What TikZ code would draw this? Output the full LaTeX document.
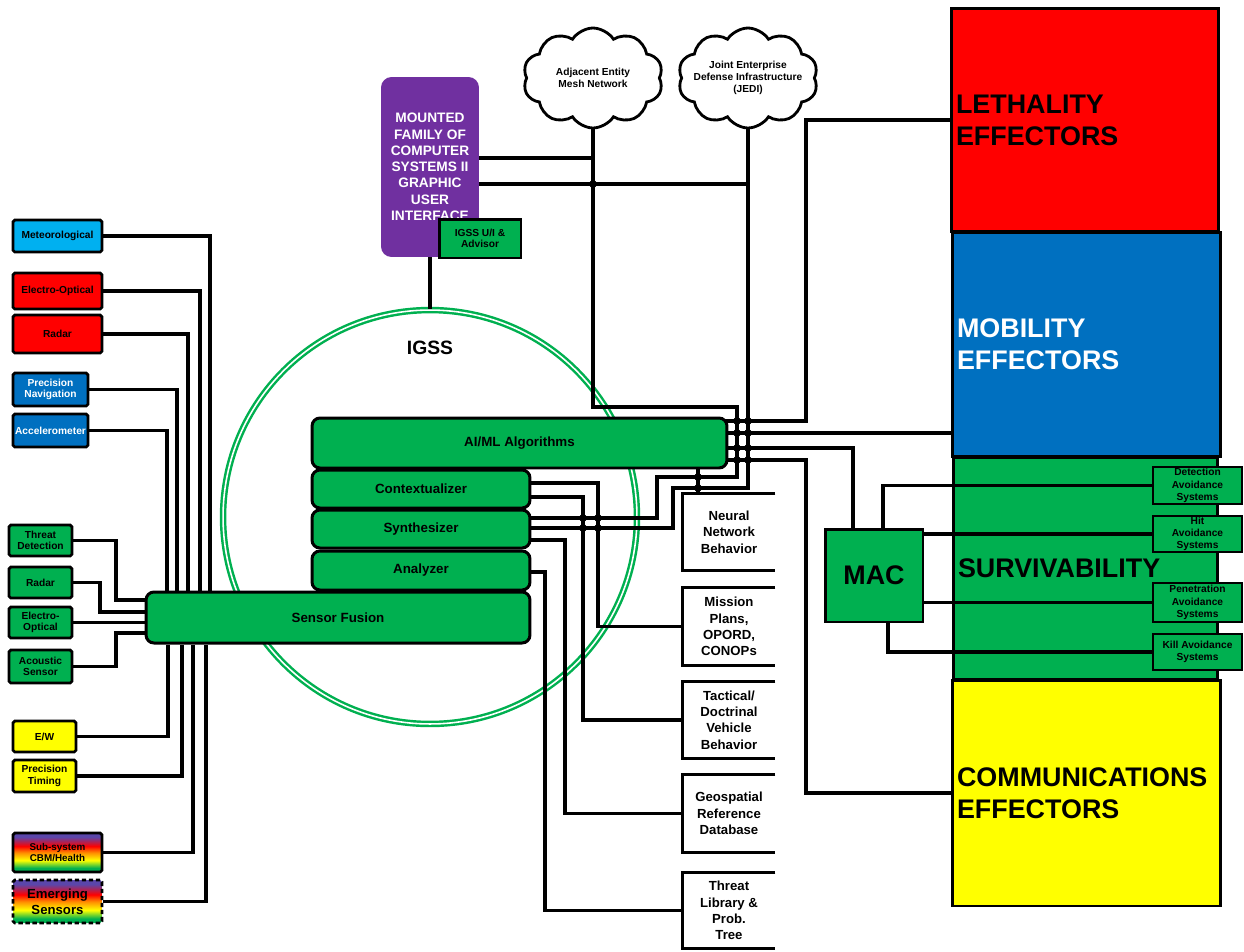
\documentclass[tikz,border=0pt]{standalone}
\usepackage{fontspec}
\setmainfont{Liberation Sans}
\usetikzlibrary{shapes.symbols}
\definecolor{sgreen}{RGB}{0,176,80}
\definecolor{sred}{RGB}{255,0,0}
\definecolor{sblue}{RGB}{0,112,192}
\definecolor{scyan}{RGB}{0,176,240}
\definecolor{syellow}{RGB}{255,255,0}
\definecolor{spurple}{RGB}{112,48,160}
\definecolor{sviolet}{RGB}{90,70,170}
\definecolor{sorange}{RGB}{255,140,0}
\pgfdeclareverticalshading{rainbowbar}{100bp}{color(0bp)=(sgreen); color(30bp)=(sgreen); color(40bp)=(syellow); color(50bp)=(sorange); color(58bp)=(sred); color(70bp)=(sviolet); color(100bp)=(sviolet)}
\pgfdeclarelayer{back}
\pgfdeclarelayer{wires}
\pgfsetlayers{back,wires,main}
\newcommand{\sensorfont}{\fontsize{5.8}{6.6}\selectfont\bfseries}
\newcommand{\stackfont}{\fontsize{7.6}{9}\selectfont\bfseries}
\newcommand{\datafont}{\fontsize{7.5}{9.3}\selectfont\bfseries}
\newcommand{\subsysfont}{\fontsize{5.8}{7}\selectfont\bfseries}
\newcommand{\efffont}{\fontsize{15.3}{18.1}\selectfont\bfseries}
\newcommand{\mfocsfont}{\fontsize{7.8}{9.25}\selectfont\bfseries}
\tikzset{
  wire/.style={line width=2pt},
  sensor/.style={draw,line width=1.6pt,rounded corners=1pt,inner sep=0pt,align=center,font=\sensorfont},
  stackbox/.style={draw,fill=sgreen,line width=1.7pt,rounded corners=4.5pt,inner sep=0pt,font=\stackfont},
  effector/.style={draw,line width=1.7pt,inner xsep=0.1cm,align=left,font=\efffont},
  subsys/.style={draw,fill=sgreen,line width=1.6pt,inner sep=0pt,align=center,font=\subsysfont,minimum width=1.78cm},
  databox/.style={inner sep=0pt,align=center,font=\datafont,minimum width=1.84cm},
  netcloud/.style={cloud,draw,fill=white,line width=1.6pt,cloud puffs=10,cloud puff arc=115,minimum width=2.8cm,minimum height=2cm}
}

\begin{document}
\begin{tikzpicture}[x=0.02cm,y=-0.02cm]
\useasboundingbox (0,0) rectangle (1244,951);

% effector columns and the IGSS ring sit under the wiring
\begin{pgfonlayer}{back}
  \node[effector,fill=sred,minimum width=5.36cm,minimum height=4.48cm,text width=5.16cm] (leth) at (1085,120) {LETHALITY\\EFFECTORS};
  \node[effector,fill=sblue,text=white,minimum width=5.38cm,minimum height=4.5cm,text width=5.18cm] (mob) at (1086.5,344.5) {MOBILITY\\EFFECTORS};
  \node[effector,fill=sgreen,minimum width=5.3cm,minimum height=4.46cm,text width=5.1cm] (surv) at (1085.5,568.5) {SURVIVABILITY};
  \node[effector,fill=syellow,minimum width=5.38cm,minimum height=4.52cm,text width=5.18cm] (comm) at (1086.5,793) {COMMUNICATIONS\\EFFECTORS};
  \node[circle,draw=sgreen,double=white,double distance=0.9pt,line width=1.4pt,minimum size=8.28cm] (igss) at (430,517) {};
\end{pgfonlayer}

\node[font=\fontsize{11}{13}\selectfont\bfseries] (igsslbl) at (430,348) {IGSS};

% sensors
\node[sensor,fill=scyan,minimum width=1.78cm,minimum height=0.64cm] (met) at (57.5,236) {Meteorological};
\node[sensor,fill=sred,minimum width=1.78cm,minimum height=0.72cm] (eo1) at (57.5,291) {Electro-Optical};
\node[sensor,fill=sred,minimum width=1.78cm,minimum height=0.76cm] (rad1) at (57.5,334) {Radar};
\node[sensor,fill=sblue,text=white,minimum width=1.5cm,minimum height=0.66cm] (pnav) at (50.5,389.5) {Precision\\Navigation};
\node[sensor,fill=sblue,text=white,minimum width=1.5cm,minimum height=0.66cm] (accel) at (50.5,430.5) {Accelerometer};
\node[sensor,fill=sgreen,minimum width=1.26cm,minimum height=0.62cm] (threat) at (40.5,540.5) {Threat\\Detection};
\node[sensor,fill=sgreen,minimum width=1.26cm,minimum height=0.62cm] (rad2) at (40.5,582.5) {Radar};
\node[sensor,fill=sgreen,minimum width=1.26cm,minimum height=0.62cm] (eo2) at (40.5,622.5) {Electro-\\Optical};
\node[sensor,fill=sgreen,minimum width=1.26cm,minimum height=0.66cm] (acou) at (40.5,666.5) {Acoustic\\Sensor};
\node[sensor,fill=syellow,minimum width=1.26cm,minimum height=0.62cm] (ew) at (44.5,736.5) {E/W};
\node[sensor,fill=syellow,minimum width=1.26cm,minimum height=0.64cm] (ptime) at (44.5,776) {Precision\\Timing};
\node[sensor,shading=rainbowbar,font=\fontsize{5.6}{6.6}\selectfont\bfseries,minimum width=1.78cm,minimum height=0.78cm] (cbm) at (57.5,852.5) {Sub-system\\CBM/Health};
\node[sensor,shading=rainbowbar,dash pattern=on 2.5pt off 1.5pt,font=\fontsize{7.5}{9}\selectfont\bfseries,minimum width=1.78cm,minimum height=0.86cm] (emerg) at (57.5,901.5) {Emerging\\Sensors};

% IGSS stack
\node[stackbox,minimum width=7.68cm,minimum height=1.02cm] (fusion) at (338,617.5) {Sensor Fusion};
\node[stackbox,minimum width=4.36cm,minimum height=0.78cm] (analyzer) at (421,570.5) {Analyzer};
\node[stackbox,minimum width=4.36cm,minimum height=0.76cm] (synth) at (421,529) {Synthesizer};
\node[stackbox,minimum width=4.36cm,minimum height=0.76cm] (context) at (421,489) {Contextualizer};
\node[stackbox,minimum width=8.3cm,minimum height=1.0cm] (aiml) at (519.5,443) {AI/ML Algorithms};

% MFoCS and networks
\node[fill=spurple,rounded corners=6pt,text=white,align=center,font=\mfocsfont,minimum width=1.96cm,minimum height=3.6cm,inner sep=0pt] (mfocs) at (430,167) {MOUNTED\\FAMILY OF\\COMPUTER\\SYSTEMS II\\GRAPHIC\\USER\\INTERFACE};
\node[draw,fill=sgreen,line width=1.7pt,align=center,font=\sensorfont,minimum width=1.64cm,minimum height=0.78cm,inner sep=0pt] (ui) at (480,238.5) {IGSS U/I \&\\Advisor};
\node[netcloud] (mesh) at (593,78) {};
\node[align=center,font=\subsysfont] (meshlbl) at (mesh.center) {Adjacent Entity\\Mesh Network};
\node[netcloud] (jedi) at (748,78) {};
\node[align=center,font=\subsysfont] (jedilbl) at (jedi.center) {Joint Enterprise\\Defense Infrastructure\\(JEDI)};

% data stores
\node[databox,minimum height=1.52cm] (nn) at (729,532) {Neural\\Network\\Behavior};
\node[databox,minimum height=1.54cm] (mission) at (729,626.5) {Mission\\Plans,\\OPORD,\\CONOPs};
\node[databox,minimum height=1.52cm] (tact) at (729,720) {Tactical/\\Doctrinal\\Vehicle\\Behavior};
\node[databox,minimum height=1.54cm] (geo) at (729,813.5) {Geospatial\\Reference\\Database};
\node[databox,minimum height=1.5cm] (tlib) at (729,910.5) {Threat\\Library \&\\Prob.\\Tree};

% MAC and survivability systems
\node[draw,fill=sgreen,line width=1.7pt,font=\efffont,minimum width=1.96cm,minimum height=1.86cm] (mac) at (874,575.5) {MAC};
\node[subsys,minimum height=0.74cm] (det) at (1197.5,485.5) {Detection\\Avoidance\\Systems};
\node[subsys,minimum height=0.72cm] (hit) at (1197.5,534) {Hit\\Avoidance\\Systems};
\node[subsys,minimum height=0.78cm] (pen) at (1197.5,602.5) {Penetration\\Avoidance\\Systems};
\node[subsys,minimum height=0.72cm] (kill) at (1197.5,652) {Kill Avoidance\\Systems};

\begin{pgfonlayer}{wires}
  % sensors into fusion
  \draw[wire] (met.east) -| (fusion.north -| 210,0);
  \draw[wire] (eo1.east) -| (fusion.north -| 200,0);
  \draw[wire] (rad1.east) -| (fusion.north -| 188,0);
  \draw[wire] (pnav.east) -| (fusion.north -| 177,0);
  \draw[wire] (accel.east) -| (fusion.north -| 167,0);
  \draw[wire] (threat.east) -| (116,600) -- (fusion.center |- 0,600);
  \draw[wire] (rad2.east) -| (100,612) -- (fusion.center |- 0,612);
  \draw[wire] (eo2.east) -- (fusion.center |- eo2.east);
  \draw[wire] (acou.east) -| (116,633) -- (fusion.center |- 0,633);
  \draw[wire] (ew.east) -| (fusion.south -| 168,0);
  \draw[wire] (ptime.east) -| (fusion.south -| 182,0);
  \draw[wire] (cbm.east) -| (fusion.south -| 193,0);
  \draw[wire] (emerg.east) -| (fusion.south -| 206,0);
  % MFoCS and networks
  \draw[wire] (mfocs.south) -- (igss.north);
  \draw[wire] (mfocs.east |- 0,158) -- (mesh.south |- 0,158);
  \draw[wire] (mfocs.east |- 0,184) -- (jedi.south |- 0,184);
  \draw[wire] (mesh.south) |- (737,407) |- (657,477) |- (synth.center |- 0,518);
  \draw[wire] (jedi.south) |- (673,488) |- (synth.center |- 0,528);
  % stack to data stores
  \draw[wire] (context.center |- 0,483) -| (mission.west -| 598,0) -- (mission.west);
  \draw[wire] (context.center |- 0,497) -| (tact.west -| 583,0) -- (tact.west);
  \draw[wire] (synth.center |- 0,540) -| (geo.west -| 565,0) -- (geo.west);
  \draw[wire] (analyzer.center |- 0,572) -| (tlib.west -| 545,0) -- (tlib.west);
  \draw[wire] (aiml.south -| 698,0) -- (nn.north -| 698,0);
  \foreach \b in {nn,mission,tact,geo,tlib}
    \draw[wire] (\b.north east) -- (\b.north west) -- (\b.south west) -- (\b.south east);
  % AI/ML to effectors
  \draw[wire] (aiml.center |- 0,421) -| (806,120) -- (leth.west |- 0,120);
  \draw[wire] (aiml.center |- 0,433) -- (mob.west |- 0,433);
  \draw[wire] (aiml.center |- 0,448) -| (mac.north -| 853,0);
  \draw[wire] (aiml.center |- 0,460) -| (806,793) -- (comm.west |- 0,793);
  % MAC to survivability systems
  \draw[wire] (mac.north -| 883,0) |- (det.west);
  \draw[wire] (mac.east |- hit.west) -- (hit.west);
  \draw[wire] (mac.east |- pen.west) -- (pen.west);
  \draw[wire] (mac.south -| 888,0) |- (kill.west);
  % junctions
  \foreach \x/\y in {593/184,737/421,748/421,737/433,748/433,737/448,748/448,737/460,748/460,698/477,698/488,583/518,598/518,583/528,598/528}
    \fill (\x,\y) circle[radius=2.2pt];
\end{pgfonlayer}
\end{tikzpicture}
\end{document}
